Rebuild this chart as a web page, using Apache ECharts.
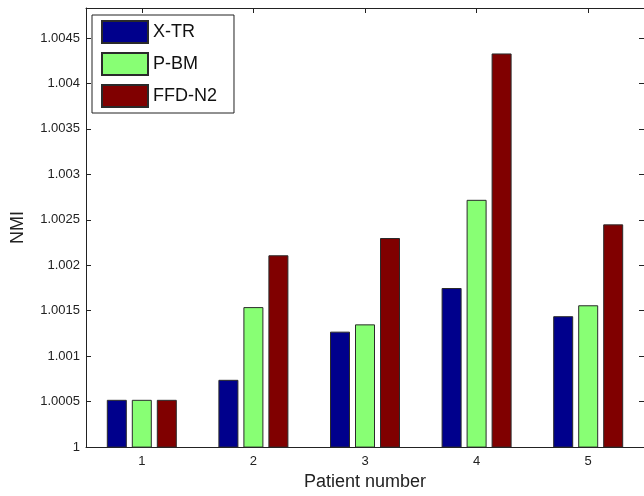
<!DOCTYPE html>
<html>
<head>
<meta charset="utf-8">
<script src="https://cdn.jsdelivr.net/npm/echarts@6/dist/echarts.min.js"></script>
<style>
html,body{margin:0;padding:0;background:#fff;}
#chart{width:644px;height:496px;}
</style>
</head>
<body>
<div id="chart"></div>
<script>
const categories = ['1', '2', '3', '4', '5'];
const seriesNames = ['X-TR', 'P-BM', 'FFD-N2'];
const xtr = [1.00052, 1.00074, 1.00127, 1.00175, 1.00144];
const pbm = [1.00052, 1.00154, 1.00135, 1.00272, 1.00156];
const ffd = [1.00052, 1.00211, 1.00230, 1.00433, 1.00245];
const colors = ['#00008C', '#88FF74', '#800000'];
const yMin = 1, yMax = 1.00483, yStep = 0.0005;

const font = "'Liberation Sans', Arial, Helvetica, sans-serif";
const axisColor = '#222';

const chart = echarts.init(document.getElementById('chart'), null, {renderer: 'canvas'});
const values = [xtr, pbm, ffd];
const series = seriesNames.map((n, i) => ({
  name: n,
  type: 'bar',
  data: values[i],
  barWidth: 20,
  barGap: '25%',
  itemStyle: {color: colors[i], borderColor: '#2a2a2a', borderWidth: 1},
  xAxisIndex: 0,
  yAxisIndex: 0
}));

const labelFmt = v => String(+v.toFixed(4));

chart.setOption({
  animation: false,
  backgroundColor: '#fff',
  textStyle: {fontFamily: font},
  grid: {left: 86, right: 0, top: 8, bottom: 47, containLabel: false},
  legend: {
    orient: 'vertical',
    left: 92, top: 15,
    padding: [5, 17, 5, 9],
    icon: 'rect',
    itemWidth: 46, itemHeight: 22, itemGap: 8,
    backgroundColor: '#fff',
    borderColor: '#222', borderWidth: 1, borderRadius: 0,
    textStyle: {fontSize: 18, color: '#111', fontFamily: font},
    data: seriesNames
  },
  xAxis: [{
    type: 'category',
    data: categories,
    position: 'bottom',
    axisLine: {show: true, lineStyle: {color: axisColor, width: 1}},
    axisTick: {show: true, inside: true, alignWithLabel: true, length: 5, lineStyle: {color: axisColor}},
    axisLabel: {fontSize: 13, color: '#222', margin: 8, fontFamily: font},
    name: 'Patient number',
    nameLocation: 'middle',
    nameGap: 24,
    nameTextStyle: {fontSize: 18, color: '#222', fontFamily: font}
  }, {
    type: 'category',
    data: categories,
    position: 'top',
    axisLine: {show: true, lineStyle: {color: axisColor, width: 1}},
    axisTick: {show: true, inside: true, alignWithLabel: true, length: 5, lineStyle: {color: axisColor}},
    axisLabel: {show: false}
  }],
  yAxis: [{
    type: 'value',
    min: yMin, max: yMax, interval: yStep,
    position: 'left',
    splitLine: {show: false},
    axisLine: {show: true, lineStyle: {color: axisColor, width: 1}},
    axisTick: {show: true, inside: true, length: 5, lineStyle: {color: axisColor}},
    axisLabel: {fontSize: 13, color: '#222', margin: 6, fontFamily: font, formatter: labelFmt, showMaxLabel: false},
    name: 'NMI',
    nameLocation: 'middle',
    nameGap: 59,
    nameRotate: 90,
    nameTextStyle: {fontSize: 18, color: '#222', fontFamily: font}
  }, {
    type: 'value',
    min: yMin, max: yMax, interval: yStep,
    position: 'right',
    splitLine: {show: false},
    axisLine: {show: true, lineStyle: {color: axisColor, width: 1}},
    axisTick: {show: true, inside: true, length: 5, lineStyle: {color: axisColor}},
    axisLabel: {show: false}
  }],
  series: series
});
</script>
</body>
</html>
